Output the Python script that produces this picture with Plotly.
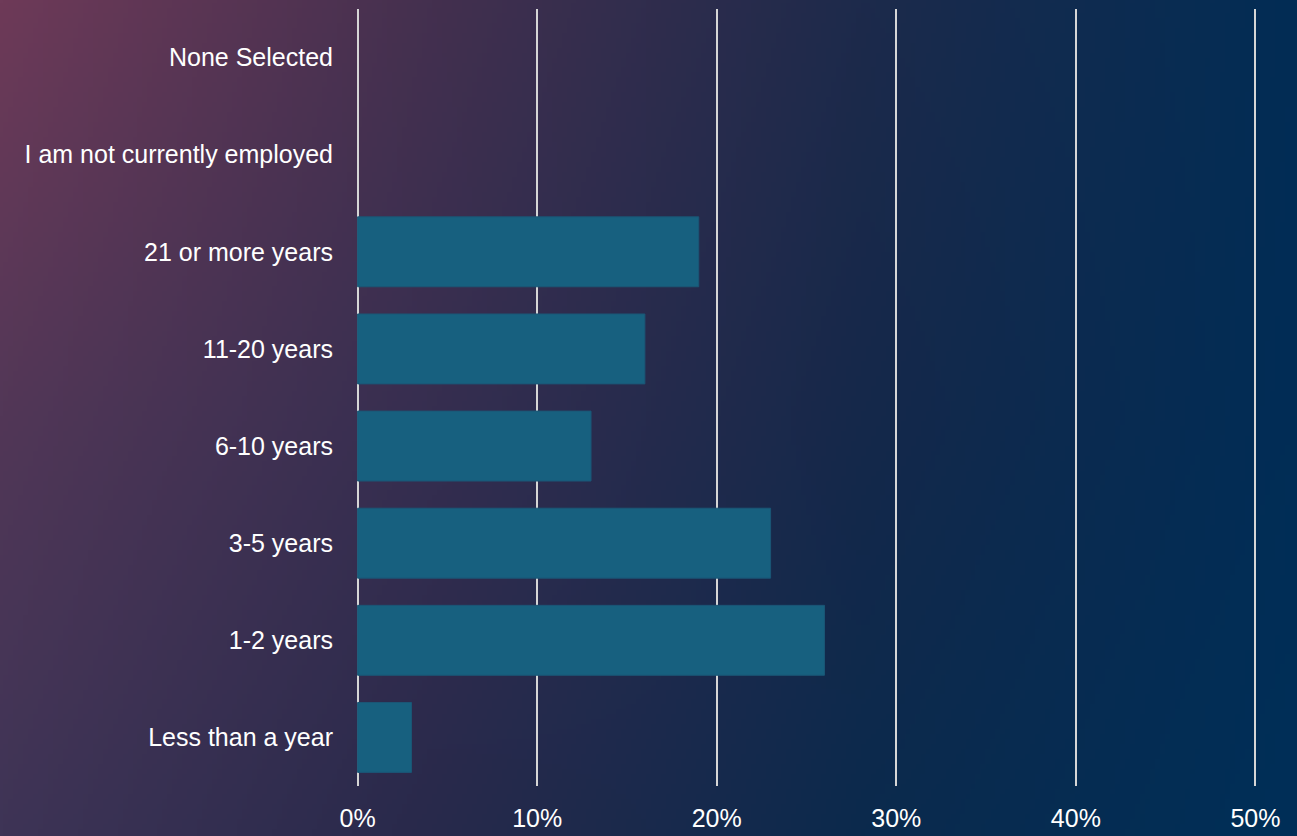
import base64, struct, zlib
import numpy as np
import plotly.graph_objects as go

categories = ["Less than a year", "1-2 years", "3-5 years", "6-10 years",
              "11-20 years", "21 or more years", "I am not currently employed",
              "None Selected"]
values = [3, 26, 23, 13, 16, 19, 0, 0]
tick_vals = [0, 10, 20, 30, 40, 50]
tick_text = ["0%", "10%", "20%", "30%", "40%", "50%"]

W, H = 1297, 836
L, R, T, B = 354, 38, 9, 50

# ---- background gradient image (decoration) ----
def hx(c):
    return [int(c[i:i + 2], 16) for i in (1, 3, 5)]

ctrl = np.array([
    [hx("#6e3a58"), hx("#44304f"), hx("#1d2a4b"), hx("#022d55")],
    [hx("#523757"), hx("#362e50"), hx("#15284a"), hx("#012d56")],
    [hx("#3e3456"), hx("#28294b"), hx("#0b2a4d"), hx("#002f58")],
], dtype=float)
iw, ih = 260, 168
xs = np.linspace(0, 3, iw)
ys = np.linspace(0, 2, ih)
img = np.zeros((ih, iw, 3))
for j, yv in enumerate(ys):
    y0 = min(int(yv), 1); fy = yv - y0
    row = ctrl[y0] * (1 - fy) + ctrl[y0 + 1] * fy
    for c in range(3):
        img[j, :, c] = np.interp(xs, [0, 1, 2, 3], row[:, c])
img = np.clip(img, 0, 255).astype(np.uint8)

def png_bytes(a):
    h, w, _ = a.shape
    raw = b"".join(b"\x00" + a[r].tobytes() for r in range(h))
    def chunk(t, d):
        c = struct.pack(">I", len(d)) + t + d
        return c + struct.pack(">I", zlib.crc32(t + d) & 0xffffffff)
    return (b"\x89PNG\r\n\x1a\n" + chunk(b"IHDR", struct.pack(">IIBBBBB", w, h, 8, 2, 0, 0, 0))
            + chunk(b"IDAT", zlib.compress(raw, 9)) + chunk(b"IEND", b""))

src = "data:image/png;base64," + base64.b64encode(png_bytes(img)).decode()
pw, ph = W - L - R, H - T - B

fig = go.Figure()
fig.add_trace(go.Bar(
    y=categories, x=values, orientation="h",
    marker=dict(color="#17607f",
                line=dict(color="#1b5676", width=[1 if v > 0 else 0 for v in values])),
    hoverinfo="skip",
))
fig.update_layout(
    width=W, height=H, autosize=False,
    margin=dict(l=L, r=R, t=T, b=B, pad=0, autoexpand=False),
    paper_bgcolor="#1f2a4a", plot_bgcolor="rgba(0,0,0,0)",
    bargap=0.28, showlegend=False,
    font=dict(family="Liberation Sans, Arial, sans-serif", color="white", size=25),
    images=[dict(source=src, xref="paper", yref="paper",
                 x=-L / pw, y=1 + T / ph, sizex=W / pw, sizey=H / ph,
                 sizing="stretch", layer="below", xanchor="left", yanchor="top")],
    xaxis=dict(range=[-0.2, 50.2], tickvals=tick_vals, ticktext=tick_text,
               showgrid=True, gridcolor="#d6d6d6", gridwidth=2,
               zeroline=False, showline=False, automargin=False,
               ticks="outside", ticklen=10, tickcolor="rgba(0,0,0,0)",
               tickfont=dict(size=25, color="white")),
    yaxis=dict(categoryorder="array", categoryarray=categories,
               range=[-0.5, 7.5], showgrid=False, zeroline=False, showline=False,
               automargin=False,
               ticks="outside", ticklen=15, tickcolor="rgba(0,0,0,0)",
               tickfont=dict(size=25, color="white")),
)
fig.write_html("out.html", config={"displayModeBar": False},
               post_script="document.body.style.margin='0';document.body.style.overflow='hidden';")
